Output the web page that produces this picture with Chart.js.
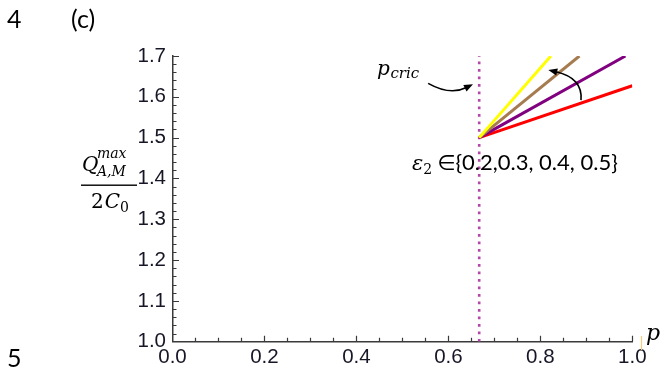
<!DOCTYPE html>
<html>
<head>
<meta charset="utf-8">
<script src="https://cdn.jsdelivr.net/npm/chart.js@4.4.1/dist/chart.umd.min.js"></script>
<style>
  html, body { margin: 0; padding: 0; background: #fff; }
  #wrap { width: 662px; height: 371px; position: relative; }
</style>
</head>
<body>
<div id="wrap"><canvas id="c" width="662" height="371"></canvas></div>
<script>
// Axis ranges and tick steps
const xRange = [0.0, 1.0];
const yRange = [1.0, 1.7];
const xMajorStep = 0.2, xMinorStep = 0.05;
const yMajorStep = 0.1, yMinorStep = 0.02;

// Critical probability (dotted marker)
const pCric = 0.667;
const cricP = [pCric, pCric];
const cricQ = [1.0, 1.7];

// ε2 values of the four curves
const epsilonValues = [0.2, 0.3, 0.4, 0.5];

// Curves: start at (p_cric, 1.5), end where they leave the frame
const redP = [0.667, 1.0];     const redQ = [1.5, 1.627];
const purpleP = [0.667, 0.985]; const purpleQ = [1.5, 1.7];
const brownP = [0.667, 0.885];  const brownQ = [1.5, 1.7];
const yellowP = [0.667, 0.823]; const yellowQ = [1.5, 1.7];

const axisColor = '#3a3a3a';
const tickTextColor = '#161626';

function pts(px, qy) { return px.map((v, i) => ({ x: v, y: qy[i] })); }

function curve(label, p, q, color) {
  return {
    label, data: pts(p, q), showLine: true, borderColor: color,
    borderWidth: 3, pointRadius: 0, fill: false, tension: 0
  };
}

// Inward ticks, annotations and the fraction label
const decor = {
  id: 'decor',
  afterDraw(chart) {
    const { ctx, scales: { x, y }, chartArea: a } = chart;
    const X = v => x.getPixelForValue(v);
    const Y = v => y.getPixelForValue(v);
    ctx.save();

    // tick marks pointing into the frame
    ctx.strokeStyle = axisColor;
    ctx.lineWidth = 1.2;
    ctx.beginPath();
    const nx = Math.round((xRange[1] - xRange[0]) / xMinorStep);
    const xr = Math.round(xMajorStep / xMinorStep);
    for (let i = 1; i <= nx; i++) {
      const px = Math.round(X(xRange[0] + i * xMinorStep)) + 0.5;
      const len = i % xr === 0 ? 6 : 4;
      ctx.moveTo(px, a.bottom);
      ctx.lineTo(px, a.bottom - len);
    }
    const ny = Math.round((yRange[1] - yRange[0]) / yMinorStep);
    const yr = Math.round(yMajorStep / yMinorStep);
    for (let i = 1; i <= ny; i++) {
      const py = Math.round(Y(yRange[0] + i * yMinorStep)) + 0.5;
      const len = i % yr === 0 ? 6.5 : 4;
      ctx.moveTo(a.left, py);
      ctx.lineTo(a.left + len, py);
    }
    ctx.stroke();

    // curved arrows
    function arrow(p0, c, p2) {
      const s = [X(p0[0]), Y(p0[1])], m = [X(c[0]), Y(c[1])], e = [X(p2[0]), Y(p2[1])];
      const ang = Math.atan2(e[1] - m[1], e[0] - m[0]);
      const hl = 9, hw = 3.6;
      const bx = e[0] - hl * Math.cos(ang), by = e[1] - hl * Math.sin(ang);
      ctx.strokeStyle = '#000';
      ctx.lineWidth = 1.6;
      ctx.beginPath();
      ctx.moveTo(s[0], s[1]);
      // stop the shaft at the base of the head
      ctx.quadraticCurveTo(m[0], m[1], bx + Math.cos(ang), by + Math.sin(ang));
      ctx.stroke();
      ctx.fillStyle = '#000';
      ctx.beginPath();
      ctx.moveTo(e[0], e[1]);
      ctx.lineTo(bx - hw * Math.sin(ang), by + hw * Math.cos(ang));
      ctx.lineTo(bx + hw * Math.sin(ang), by - hw * Math.cos(ang));
      ctx.closePath();
      ctx.fill();
    }
    arrow([0.556, 1.633], [0.6035, 1.603], [0.6535, 1.631]);
    arrow([0.8884, 1.592], [0.8928, 1.646], [0.8173, 1.666]);

    ctx.fillStyle = '#000';
    ctx.textBaseline = 'alphabetic';
    ctx.textAlign = 'left';

    // p_cric label
    ctx.font = 'italic 20px "DejaVu Serif"';
    const cx = X(0.445), cy = Y(1.6534);
    ctx.fillText('p', cx, cy);
    const pw = ctx.measureText('p').width;
    ctx.font = 'italic 15px "DejaVu Serif"';
    ctx.fillText('cric', cx + pw + 0.5, cy + 3);

    // ε2 set label
    const ex = X(0.5208), ey = Y(1.4206);
    ctx.font = 'italic 21px "DejaVu Serif"';
    ctx.fillText('ε', ex, ey);
    let w = ctx.measureText('ε').width;
    ctx.font = '14px "DejaVu Serif"';
    ctx.fillText('2', ex + w, ey + 4);
    w += ctx.measureText('2').width + 5;
    ctx.font = '21px "DejaVu Sans"';
    ctx.fillText('∈', ex + w, ey);
    w += ctx.measureText('∈').width;
    ctx.font = '22px Lato, "Open Sans", sans-serif';
    ctx.fillText('{' + epsilonValues.slice(0, 2).join(',') + ', ' + epsilonValues.slice(2).join(', ') + '}', ex + w, ey);

    // axis title p
    ctx.font = 'italic 22px "DejaVu Serif"';
    ctx.fillText('p', 646, 340);

    // fraction Q^max_{A,M} / 2C_0
    ctx.font = 'italic 20px "DejaVu Serif"';
    ctx.fillText('Q', 82, 171);
    ctx.font = 'italic 14px "DejaVu Serif"';
    ctx.fillText('max', 97, 158);
    ctx.fillText('A,M', 97, 176);
    ctx.fillRect(81, 184.5, 56, 1.4);
    ctx.font = '20px "DejaVu Serif"';
    ctx.fillText('2', 91, 208);
    const w2 = ctx.measureText('2').width;
    ctx.font = 'italic 20px "DejaVu Serif"';
    ctx.fillText('C', 91 + w2 + 1, 208);
    const wc = ctx.measureText('C').width;
    ctx.font = '14px "DejaVu Serif"';
    ctx.fillText('0', 91 + w2 + 1 + wc, 212);

    // line numbers and panel tag
    ctx.font = '25px Lato, "Open Sans", sans-serif';
    ctx.fillText('4', 7, 28);
    ctx.fillText('(c)', 71, 28);
    ctx.fillText('5', 7, 367);

    // thin mark beside the end of the p axis
    ctx.strokeStyle = '#f6cf7a';
    ctx.lineWidth = 1.2;
    ctx.beginPath();
    ctx.moveTo(641.5, 336);
    ctx.lineTo(641.5, 350);
    ctx.stroke();

    ctx.restore();
  }
};

new Chart(document.getElementById('c'), {
  type: 'scatter',
  data: {
    datasets: [
      curve('ε2 = ' + epsilonValues[3], yellowP, yellowQ, '#ffff00'),
      curve('ε2 = ' + epsilonValues[2], brownP, brownQ, '#a67b4f'),
      curve('ε2 = ' + epsilonValues[1], purpleP, purpleQ, '#800080'),
      curve('ε2 = ' + epsilonValues[0], redP, redQ, '#ff0000'),
      {
        label: 'p_cric', data: pts(cricP, cricQ), showLine: true,
        borderColor: 'rgb(178,72,168)', borderWidth: 2.6, borderDash: [2.6, 4.9],
        borderCapStyle: 'butt', pointRadius: 0, fill: false
      }
    ]
  },
  options: {
    responsive: false,
    animation: false,
    devicePixelRatio: 1,
    layout: { padding: { top: 56, right: 29.7, bottom: 0, left: 112.5 } },
    plugins: { legend: { display: false }, tooltip: { enabled: false } },
    scales: {
      x: {
        type: 'linear', min: xRange[0], max: xRange[1],
        afterFit: s => { s.height = 29.3; },
        grid: { display: false, drawTicks: false },
        border: { display: true, color: axisColor, width: 1.5 },
        ticks: {
          stepSize: xMajorStep, padding: 3, color: tickTextColor,
          font: { family: '"Liberation Sans", Arial', size: 20.5 },
          callback: v => Number(v).toFixed(1), maxRotation: 0, autoSkip: false
        }
      },
      y: {
        type: 'linear', min: yRange[0], max: yRange[1],
        afterFit: s => { s.width = 60; },
        grid: { display: false, drawTicks: false },
        border: { display: true, color: axisColor, width: 1.5 },
        ticks: {
          stepSize: yMajorStep, padding: 6.5, color: tickTextColor,
          font: { family: '"Liberation Sans", Arial', size: 20.5 },
          callback: v => Number(v).toFixed(1), autoSkip: false
        }
      }
    }
  },
  plugins: [decor]
});
</script>
</body>
</html>
